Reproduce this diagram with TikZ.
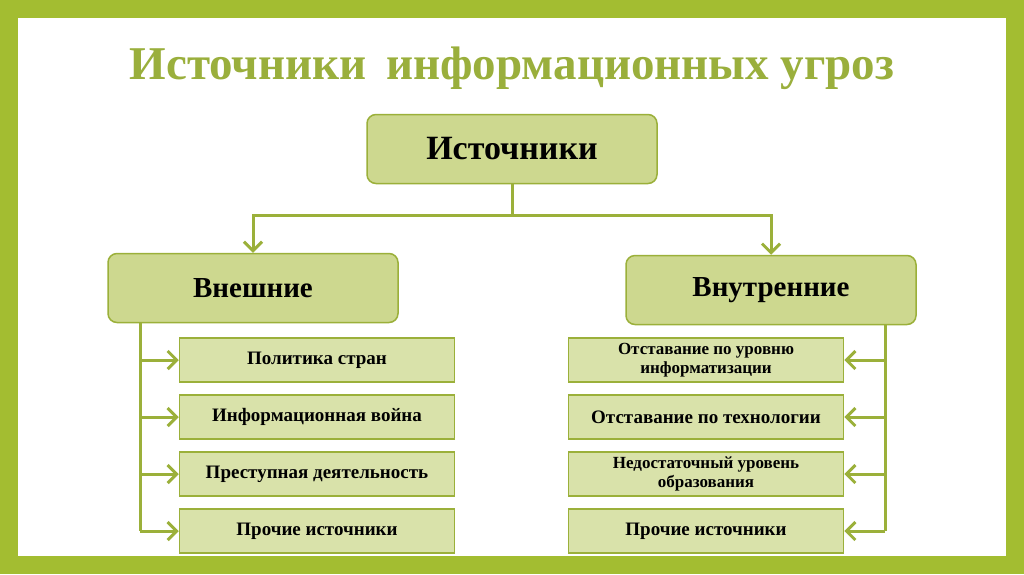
\documentclass[tikz,border=0pt]{standalone}
\usepackage{fontspec}
\setmainfont{Liberation Serif}
\usetikzlibrary{arrows.meta}
\definecolor{frame}{HTML}{A3BD31}
\definecolor{edge}{HTML}{9BB03A}
\definecolor{bigf}{HTML}{CDD88F}
\definecolor{smallf}{HTML}{D9E2AA}
\definecolor{titc}{HTML}{9AAF3C}
\begin{document}
\begin{tikzpicture}[x=1pt,y=-1pt,
  big/.style={draw=edge,line width=1.5pt,fill=bigf,rounded corners=9pt,minimum width=290pt,minimum height=69pt,font=\bfseries\fontsize{29}{32}\selectfont},
  small/.style={draw=edge,line width=1.5pt,fill=smallf,minimum width=275pt,minimum height=44pt,font=\bfseries\fontsize{19}{20}\selectfont,align=center},
  smaller/.style={small,font=\bfseries\fontsize{17}{19}\selectfont},
  conn/.style={draw=edge,line width=3pt,-{Straight Barb[length=9pt,width=18pt,line width=3pt]}},
  line/.style={draw=edge,line width=3pt}]
\fill[frame] (0,0) rectangle (1024,574);
\fill[white] (18,18) rectangle (1006,556);
\node[font=\bfseries\fontsize{47}{50}\selectfont,text=titc] (t) at (512,68) {Источники\, информационных угроз};
\node[big,font=\bfseries\fontsize{34}{38}\selectfont] (src) at (512,149) {Источники};
\node[big] (ext) at (253,288) {Внешние};
\node[big] (int) at (771,290) {Внутренние};
\node[small] (l1) at (317,360) {Политика стран};
\node[small] (l2) at (317,417) {Информационная война};
\node[small] (l3) at (317,474) {Преступная деятельность};
\node[small] (l4) at (317,531) {Прочие источники};
\node[smaller] (r1) at (706,360) {Отставание по уровню\\информатизации};
\node[small] (r2) at (706,417) {Отставание по технологии};
\node[smaller] (r3) at (706,474) {Недостаточный уровень\\образования};
\node[small] (r4) at (706,531) {Прочие источники};
\coordinate (j) at (512,215);
\draw[line] (src.south) -- (j);
\draw[conn] (j) -| (ext.north);
\draw[conn] (j) -| (int.north);
\draw[line] (ext.south -| 140,0) -- (140,531);
\foreach \n in {l1,l2,l3,l4} \draw[conn] (\n.west -| 140,0) -- (\n.west);
\draw[line] (int.south -| 885,0) -- (885,531);
\foreach \n in {r1,r2,r3,r4} \draw[conn] (\n.east -| 885,0) -- (\n.east);
\end{tikzpicture}
\end{document}
